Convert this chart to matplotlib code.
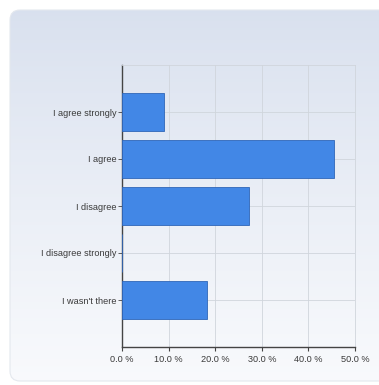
import numpy as np
import matplotlib
matplotlib.use('Agg')
import matplotlib.pyplot as plt
from matplotlib.patches import FancyBboxPatch

# Datos de la encuesta
categorias = ["I agree strongly", "I agree", "I disagree", "I disagree strongly", "I wasn't there"]
porcentajes = [9.1, 45.5, 27.3, 0.0, 18.2]
ticks_x = [0, 10, 20, 30, 40, 50]
etiquetas_x = ["0.0 %", "10.0 %", "20.0 %", "30.0 %", "40.0 %", "50.0 %"]

plt.rcParams['font.family'] = ['Liberation Sans', 'DejaVu Sans']

W, H = 379, 385
fig = plt.figure(figsize=(W / 100, H / 100), dpi=100)
fig.patch.set_facecolor('white')

# Panel de fondo con degradado y esquinas redondeadas
bg = fig.add_axes([0, 0, 1, 1], zorder=0)
bg.set_xlim(0, W)
bg.set_ylim(H, 0)
bg.axis('off')
grad = np.linspace(0, 1, 256).reshape(-1, 1)
top = np.array([0.85, 0.88, 0.935])
bottom = np.array([0.975, 0.98, 0.99])
img = top + (bottom - top) * grad[..., None] ** 0.9
panel = FancyBboxPatch((10, 10), W + 20, H - 14, boxstyle="round,pad=0,rounding_size=10",
                       facecolor='none', edgecolor='#e4e8ee', linewidth=0.8)
bg.add_patch(panel)
im = bg.imshow(img, extent=(10, W + 20, H - 4, 10), aspect='auto')
im.set_clip_path(panel)

# Grafico de barras
ax = fig.add_axes([122 / W, 1 - 347 / H, (355 - 122) / W, (347 - 65) / H], zorder=1)
ax.set_facecolor('none')
y = np.arange(len(categorias))
ax.barh(y, porcentajes, height=0.8, color='#4287e6', edgecolor='#2f66b8', linewidth=0.6, zorder=3)
ax.set_ylim(len(categorias), -1)
ax.set_xlim(0, 50)
ax.set_yticks(y)
ax.set_yticklabels(categorias, fontsize=6.6, color='#3a3a3a')
ax.set_xticks(ticks_x)
ax.set_xticklabels(etiquetas_x, fontsize=6.6, color='#3a3a3a')
ax.grid(True, color='#d0d5dc', linewidth=0.6, zorder=0)
ax.tick_params(axis='y', length=3, width=0.6, pad=1, color='#444444')
ax.tick_params(axis='x', length=3, width=0.8, pad=3, color='#444444')
for s in ['top', 'right']:
    ax.spines[s].set_color('#d0d5dc')
    ax.spines[s].set_linewidth(0.6)
for s in ['left', 'bottom']:
    ax.spines[s].set_color('#444444')
    ax.spines[s].set_linewidth(1.0)

plt.savefig('out.png', dpi=100)
plt.close()
